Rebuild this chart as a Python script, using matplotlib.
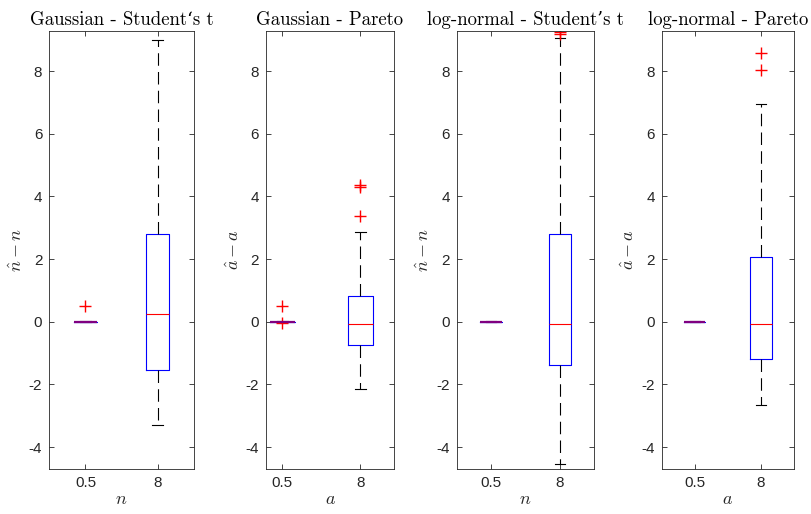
import matplotlib
matplotlib.use('Agg')
import matplotlib.pyplot as plt

plt.rcParams['mathtext.fontset'] = 'cm'
plt.rcParams['axes.unicode_minus'] = False
plt.rcParams['font.family'] = ['Liberation Sans', 'DejaVu Sans']
plt.rcParams['lines.scale_dashes'] = False

# titulos, rotulos e categorias
titulos = ['Gaussian - Student\u2018s t', 'Gaussian - Pareto',
           'log-normal - Student\u2019s t', 'log-normal - Pareto']
rotulos_y = [r'$\hat{n} - n$', r'$\hat{a} - a$', r'$\hat{n} - n$', r'$\hat{a} - a$']
rotulos_x = [r'$n$', r'$a$', r'$n$', r'$a$']
categorias = ['0.5', '8']

# estatisticas das caixas
# [whislo, q1, mediana, q3, whishi]
caixa_05 = [[-0.01, -0.005, 0.0, 0.005, 0.01]] * 4
outliers_05 = [[0.5], [0.5, -0.03], [], []]
caixa_8 = [[-3.29, -1.54, 0.25, 2.80, 8.99],
           [-2.14, -0.75, -0.08, 0.83, 2.87],
           [-4.54, -1.38, -0.07, 2.80, 9.05],
           [-2.65, -1.19, -0.07, 2.07, 6.95]]
outliers_8 = [[], [3.37, 4.29, 4.37], [9.20, 9.26], [8.05, 8.58]]

# limites do eixo x de cada painel
limites_x = [(0.5, 2.5), (0.79, 2.43), (0.5, 2.5), (0.5, 2.5)]

W, H = 812, 514
posicoes = [(49.3, 194), (266, 394), (456.7, 594), (661.7, 794)]
topo, base = 30.7, 469

fig = plt.figure(figsize=(W / 100, H / 100), dpi=100)

cor_eixo = '#262626'
for i in range(4):
    x0, x1 = posicoes[i]
    ax = fig.add_axes([x0 / W, 1 - base / H, (x1 - x0) / W, (base - topo) / H])
    stats = []
    for caixa, out, lab in [(caixa_05[i], outliers_05[i], categorias[0]),
                            (caixa_8[i], outliers_8[i], categorias[1])]:
        stats.append(dict(whislo=caixa[0], q1=caixa[1], med=caixa[2], q3=caixa[3],
                          whishi=caixa[4], fliers=out, label=lab))
    b = ax.bxp(stats, positions=[1, 2], widths=0.32, capwidths=0.15,
               boxprops=dict(color='blue', linewidth=0.8),
               medianprops=dict(color='red', linewidth=0.8),
               whiskerprops=dict(color='black', linewidth=0.8, linestyle=(0, (9, 4.5))),
               capprops=dict(color='black', linewidth=0.8),
               flierprops=dict(marker='+', markeredgecolor='red', markersize=9,
                               markeredgewidth=1.0, linestyle='none'))
    # caixa achatada em 0.5: azul e vermelho sobrepostos ficam roxos
    b['medians'][0].set_color('#800080')
    b['medians'][0].set_linewidth(1.6)
    ax.set_xlim(limites_x[i])
    ax.set_ylim(-4.70, 9.29)
    ax.set_yticks([-4, -2, 0, 2, 4, 6, 8])
    ax.set_xticks([1, 2])
    ax.set_xticklabels(categorias)
    ax.tick_params(direction='in', top=True, right=True, length=3.5, width=0.6,
                   colors=cor_eixo, labelsize=11, pad=5)
    for s in ax.spines.values():
        s.set_color(cor_eixo)
        s.set_linewidth(0.6)
    ax.set_title(titulos[i], family=['cmr10', 'DejaVu Serif'], fontsize=13.5,
                 pad=4, color='black')
    ax.set_ylabel(rotulos_y[i], fontsize=13, color=cor_eixo, labelpad=2)
    ax.set_xlabel(rotulos_x[i], fontsize=13, color=cor_eixo, labelpad=1)

plt.savefig('out.png', dpi=100)
